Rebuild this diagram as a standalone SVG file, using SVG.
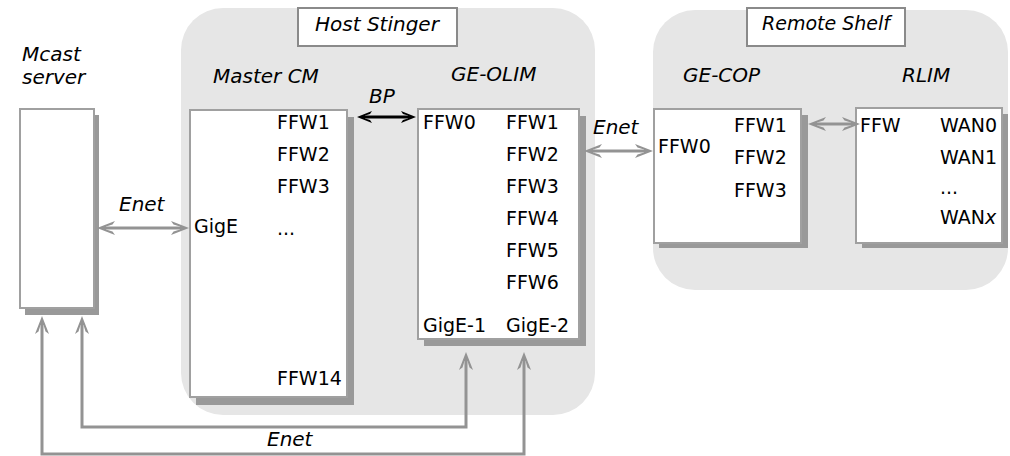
<svg xmlns="http://www.w3.org/2000/svg" width="1010" height="456" viewBox="0 0 1010 456">
<style>
text{font-family:"DejaVu Sans","Noto Sans",sans-serif;font-size:19px;fill:#000}
.it{font-style:italic;font-size:20px}
.cont{fill:#e6e6e6}
.lbl{fill:#fff;stroke:#8a8a8a;stroke-width:2}
.box{fill:#fff;stroke:#a0a0a0;stroke-width:2}
.sh{fill:#999}
.conn{fill:none;stroke:#939393;stroke-width:3}
.bp{fill:none;stroke:#000;stroke-width:3}
</style>
<defs>
<marker id="ae" markerUnits="userSpaceOnUse" viewBox="-20 -8 22 16" refX="-6" refY="0" markerWidth="22" markerHeight="16" orient="auto">
<path d="M0,0 L-18,-7 L-15.5,-3.5 L-9,-1.5 L-9,1.5 L-15.5,3.5 L-18,7 Z" fill="#939393"/>
</marker>
<marker id="as" markerUnits="userSpaceOnUse" viewBox="-2 -8 22 16" refX="6" refY="0" markerWidth="22" markerHeight="16" orient="auto">
<path d="M0,0 L18,-7 L15.5,-3.5 L9,-1.5 L9,1.5 L15.5,3.5 L18,7 Z" fill="#939393"/>
</marker>
<marker id="be" markerUnits="userSpaceOnUse" viewBox="-20 -8 22 16" refX="-5" refY="0" markerWidth="22" markerHeight="16" orient="auto">
<path d="M0,0 L-15,-6 L-13,-3 L-8,-1.5 L-8,1.5 L-13,3 L-15,6 Z" fill="#000"/>
</marker>
<marker id="bs" markerUnits="userSpaceOnUse" viewBox="-2 -8 22 16" refX="5" refY="0" markerWidth="22" markerHeight="16" orient="auto">
<path d="M0,0 L15,-6 L13,-3 L8,-1.5 L8,1.5 L13,3 L15,6 Z" fill="#000"/>
</marker>
</defs>

<g id="host-stinger">
<rect class="cont" x="181" y="8" width="414" height="407" rx="42"/>
<rect class="lbl" x="298" y="8" width="159" height="38"/>
<text class="it" x="315" y="31">Host Stinger</text>
</g>
<g id="remote-shelf">
<rect class="cont" x="653" y="10" width="355" height="280" rx="42"/>
<rect class="lbl" x="747" y="8" width="158" height="38"/>
<text class="it" x="762" y="30" style="font-size:19px">Remote Shelf</text>
</g>

<g id="mcast-server">
<text class="it" x="22" y="61">Mcast</text>
<text class="it" x="22" y="84">server</text>
<rect class="sh" x="25" y="115" width="74" height="200"/>
<rect class="box" x="20" y="109" width="74" height="199"/>
</g>

<g id="master-cm">
<text class="it" x="213" y="83">Master CM</text>
<rect class="sh" x="196" y="117" width="158" height="288"/>
<rect class="box" x="190" y="110" width="157" height="287"/>
<text x="277" y="129">FFW1</text>
<text x="277" y="161">FFW2</text>
<text x="277" y="193">FFW3</text>
<text x="277" y="235">...</text>
<text x="194" y="233">GigE</text>
<text x="277" y="385">FFW14</text>
</g>

<g id="ge-olim">
<text class="it" x="451" y="81">GE-OLIM</text>
<rect class="sh" x="424" y="116" width="162" height="230"/>
<rect class="box" x="418" y="109" width="161" height="230"/>
<text x="423" y="129">FFW0</text>
<text x="506" y="129">FFW1</text>
<text x="506" y="161">FFW2</text>
<text x="506" y="193">FFW3</text>
<text x="506" y="225">FFW4</text>
<text x="506" y="257">FFW5</text>
<text x="506" y="289">FFW6</text>
<text x="423" y="332">GigE-1</text>
<text x="506" y="332">GigE-2</text>
</g>

<g id="ge-cop">
<text class="it" x="683" y="82">GE-COP</text>
<rect class="sh" x="659" y="115" width="149" height="133"/>
<rect class="box" x="654" y="109" width="147" height="134"/>
<text x="658" y="153">FFW0</text>
<text x="734" y="132">FFW1</text>
<text x="734" y="164">FFW2</text>
<text x="734" y="197">FFW3</text>
</g>

<g id="rlim">
<text class="it" x="902" y="82">RLIM</text>
<rect class="sh" x="862" y="114" width="146" height="134"/>
<rect class="box" x="856" y="108" width="146" height="135"/>
<text x="860" y="132">FFW</text>
<text x="940" y="132">WAN0</text>
<text x="940" y="164">WAN1</text>
<text x="940" y="194">...</text>
<text x="940" y="224">WAN<tspan class="it" style="font-size:19px">x</tspan></text>
</g>

<g id="connectors">
<line class="conn" x1="103" y1="228" x2="183" y2="228" marker-start="url(#as)" marker-end="url(#ae)"/>
<text class="it" x="119" y="211">Enet</text>
<line class="bp" x1="362" y1="117" x2="411" y2="117" marker-start="url(#bs)" marker-end="url(#be)"/>
<text class="it" x="369" y="103">BP</text>
<line class="conn" x1="590" y1="151" x2="647" y2="151" marker-start="url(#as)" marker-end="url(#ae)"/>
<text class="it" x="593" y="134">Enet</text>
<line class="conn" x1="814" y1="124" x2="854" y2="124" marker-start="url(#as)" marker-end="url(#ae)"/>
<path class="conn" d="M82,322 L82,427 L466,427 L466,358" marker-start="url(#as)" marker-end="url(#ae)"/>
<path class="conn" d="M42,322 L42,454 L524,454 L524,358" marker-start="url(#as)" marker-end="url(#ae)"/>
<text class="it" x="267" y="446">Enet</text>
</g>
</svg>
